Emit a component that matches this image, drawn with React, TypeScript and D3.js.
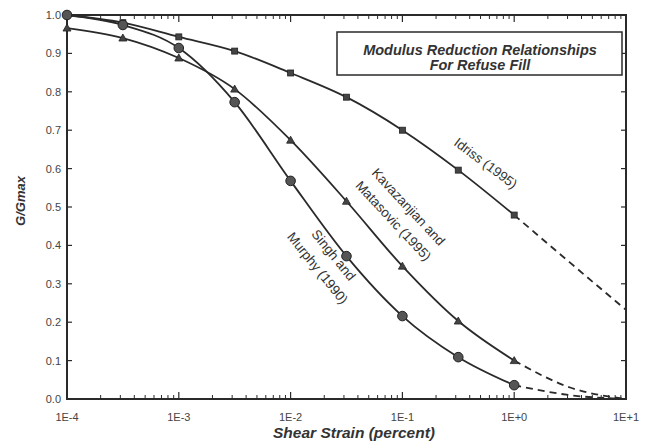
import React from "react";
import * as d3 from "d3";

const strains = [1e-4, 3.16e-4, 1e-3, 3.16e-3, 1e-2, 3.16e-2, 1e-1, 3.16e-1, 1];
const idriss = [1.0, 0.98, 0.943, 0.906, 0.849, 0.786, 0.7, 0.596, 0.479];
const kavazanjian = [0.966, 0.94, 0.888, 0.807, 0.674, 0.515, 0.346, 0.203, 0.1];
const singh = [1.0, 0.974, 0.914, 0.773, 0.568, 0.372, 0.216, 0.109, 0.036];

const extStrains = [1, 3.16, 10];
const idrissExt = [0.479, 0.355, 0.232];
const kavazanjianExt = [0.1, 0.03, 0.0];
const singhExt = [0.036, 0.01, 0.0];

const xTickValues = [1e-4, 1e-3, 1e-2, 1e-1, 1, 10];
const xTickLabels = ["1E-4", "1E-3", "1E-2", "1E-1", "1E+0", "1E+1"];
const yTickValues = [0, 0.1, 0.2, 0.3, 0.4, 0.5, 0.6, 0.7, 0.8, 0.9, 1.0];

const W = 655;
const H = 445;
const left = 67;
const right = 626;
const top = 15;
const bottom = 399;

export default function App() {
  const x = d3.scaleLog().domain([1e-4, 10]).range([left, right]);
  const y = d3.scaleLinear().domain([0, 1]).range([bottom, top]);
  const line = d3
    .line<[number, number]>()
    .x((d) => x(d[0]))
    .y((d) => y(d[1]))
    .curve(d3.curveMonotoneX);

  const zip = (xs: number[], ys: number[]) => xs.map((v, i) => [v, ys[i]] as [number, number]);
  const idrissPts = zip(strains, idriss);
  const kavPts = zip(strains, kavazanjian);
  const singhPts = zip(strains, singh);

  const minorTicks: number[] = [];
  for (let e = -4; e < 1; e++) {
    for (let m = 2; m <= 9; m++) minorTicks.push(m * Math.pow(10, e));
  }

  const ink = "#2a2a2a";
  const font = "'Liberation Sans', Arial, sans-serif";
  const labelSize = 13.5;

  return (
    <div style={{ position: "absolute", left: 0, top: 0 }}>
      <svg width={W} height={H} style={{ display: "block", background: "#fff" }}>
        {/* frame */}
        <rect x={left} y={top} width={right - left} height={bottom - top} fill="none" stroke={ink} strokeWidth={2} />
        {/* y ticks left and right */}
        {yTickValues.map((v, i) => (
          <g key={"yt" + i}>
            <line x1={left} x2={left + 5} y1={y(v)} y2={y(v)} stroke={ink} strokeWidth={1.2} />
            <line x1={right} x2={right - 5} y1={y(v)} y2={y(v)} stroke={ink} strokeWidth={1.2} />
            <text x={61} y={y(v) + 4} textAnchor="end" fontFamily={font} fontSize={11} fill="#444">
              {v.toFixed(1)}
            </text>
          </g>
        ))}
        {/* x ticks bottom and top */}
        {xTickValues.map((v, i) => (
          <g key={"xt" + i}>
            <line x1={x(v)} x2={x(v)} y1={bottom} y2={bottom - 7} stroke={ink} strokeWidth={1.2} />
            <line x1={x(v)} x2={x(v)} y1={top} y2={top + 7} stroke={ink} strokeWidth={1.2} />
            <text x={x(v)} y={421} textAnchor="middle" fontFamily={font} fontSize={11} fill="#444">
              {xTickLabels[i]}
            </text>
          </g>
        ))}
        {minorTicks.map((v, i) => (
          <g key={"mt" + i}>
            <line x1={x(v)} x2={x(v)} y1={bottom} y2={bottom - 4} stroke={ink} strokeWidth={1} />
            <line x1={x(v)} x2={x(v)} y1={top} y2={top + 4} stroke={ink} strokeWidth={1} />
          </g>
        ))}
        {/* axis titles */}
        <text x={354} y={438} textAnchor="middle" fontFamily={font} fontSize={15.5} fontWeight="bold" fontStyle="italic" fill="#333">
          Shear Strain (percent)
        </text>
        <text
          transform="translate(25,201) rotate(-90)"
          textAnchor="middle"
          fontFamily={font}
          fontSize={13}
          fontWeight="bold"
          fontStyle="italic"
          fill="#333"
        >
          G/Gmax
        </text>
        {/* title box */}
        <rect x={337} y={32} width={285} height={43} fill="#fff" stroke={ink} strokeWidth={1.5} />
        <text x={480} y={55} textAnchor="middle" fontFamily={font} fontSize={14.5} fontWeight="bold" fontStyle="italic" fill="#333">
          Modulus Reduction Relationships
        </text>
        <text x={480} y={70} textAnchor="middle" fontFamily={font} fontSize={14.5} fontWeight="bold" fontStyle="italic" fill="#333">
          For Refuse Fill
        </text>
        {/* solid curves */}
        <path d={line(idrissPts) || ""} fill="none" stroke={ink} strokeWidth={1.8} />
        <path d={line(kavPts) || ""} fill="none" stroke={ink} strokeWidth={1.8} />
        <path d={line(singhPts) || ""} fill="none" stroke={ink} strokeWidth={1.8} />
        {/* dashed extensions */}
        <path d={line(zip(extStrains, idrissExt)) || ""} fill="none" stroke={ink} strokeWidth={1.8} strokeDasharray="7,5" />
        <path d={line(zip(extStrains, kavazanjianExt)) || ""} fill="none" stroke={ink} strokeWidth={1.8} strokeDasharray="7,5" />
        <path d={line(zip(extStrains, singhExt)) || ""} fill="none" stroke={ink} strokeWidth={1.8} strokeDasharray="7,5" />
        {/* markers */}
        {idrissPts.map((d, i) => (
          <rect key={"sq" + i} x={x(d[0]) - 3} y={y(d[1]) - 3} width={6} height={6} fill="#444" stroke="#222" strokeWidth={0.8} />
        ))}
        {kavPts.map((d, i) => {
          const cx = x(d[0]);
          const cy = y(d[1]);
          return (
            <path
              key={"tr" + i}
              d={`M${cx},${cy - 4}L${cx + 4},${cy + 3}L${cx - 4},${cy + 3}Z`}
              fill="#444"
              stroke="#222"
              strokeWidth={0.8}
            />
          );
        })}
        {singhPts.map((d, i) => (
          <circle key={"ci" + i} cx={x(d[0])} cy={y(d[1])} r={4.8} fill="#555" stroke="#222" strokeWidth={1} />
        ))}
        {/* curve labels */}
        <text transform="translate(483,167) rotate(37)" textAnchor="middle" fontFamily={font} fontSize={labelSize} fill="#333">
          Idriss (1995)
        </text>
        <text transform="translate(405,210) rotate(47)" textAnchor="middle" fontFamily={font} fontSize={labelSize} fill="#333">
          Kavazanjian and
        </text>
        <text transform="translate(390,224) rotate(47)" textAnchor="middle" fontFamily={font} fontSize={labelSize} fill="#333">
          Matasovic (1995)
        </text>
        <text transform="translate(330,258) rotate(51)" textAnchor="middle" fontFamily={font} fontSize={labelSize} fill="#333">
          Singh and
        </text>
        <text transform="translate(314,271) rotate(51)" textAnchor="middle" fontFamily={font} fontSize={labelSize} fill="#333">
          Murphy (1990)
        </text>
      </svg>
    </div>
  );
}
